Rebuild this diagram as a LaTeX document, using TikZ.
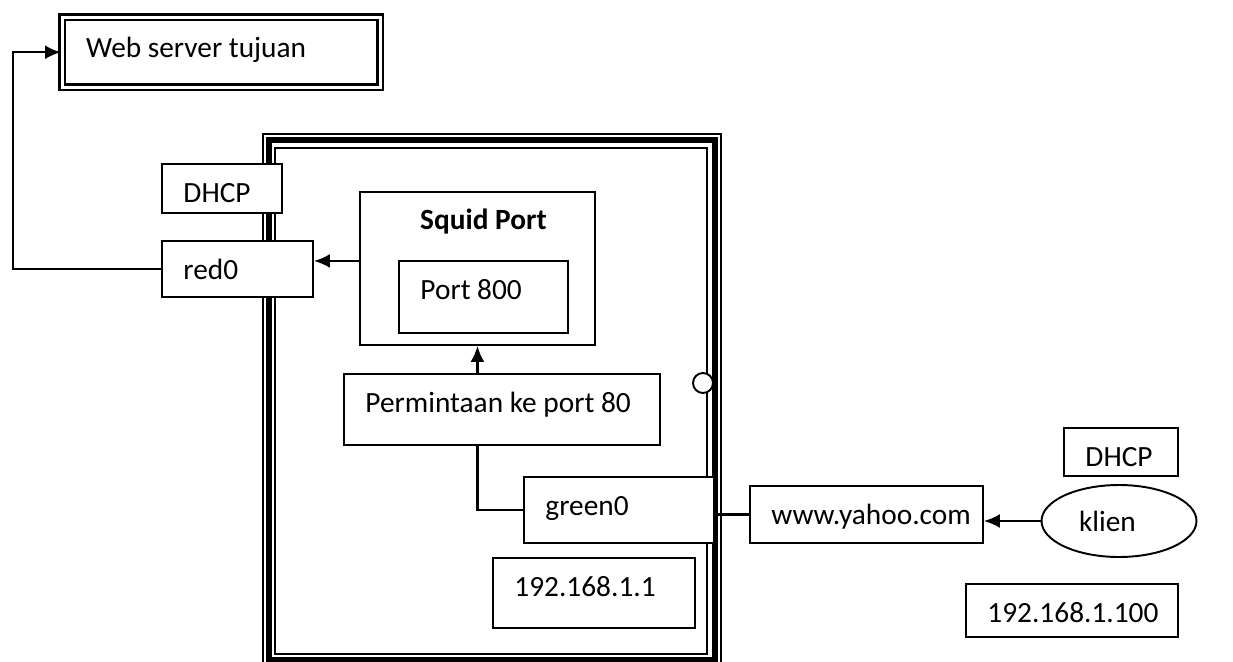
\documentclass[tikz,border=0pt]{standalone}
\usepackage{fontspec}
\setmainfont{Carlito}
\usetikzlibrary{shapes,arrows.meta,positioning,calc}

\begin{document}
\begin{tikzpicture}[x=0.02cm, y=-0.02cm, >={Latex[length=0.32cm,width=0.28cm]},
    font=\fontsize{16.7}{19}\selectfont,
    kotak/.style={draw, rectangle, fill=white, line width=1.1pt, anchor=north west, align=flush left, inner xsep=0.43cm, inner ysep=0pt, text height=0.78cm},
    garis/.style={line width=1.4pt}]
    \useasboundingbox (0,0) rectangle (1233,662);

    % bingkai server
    \draw [line width=0.85pt] (263,134) rectangle (721,666);
    \draw [line width=0.12cm] (269,140.5) rectangle (715,660);
    \draw [line width=1.1pt] (275,148) rectangle (707,654);

    \node [kotak, double, double distance=1.7pt, line width=1.4pt, inner xsep=0.48cm, text width=5.4cm, text height=0.8cm, text depth=0.6cm] (web) at (61,16) {Web server tujuan};

    \node [kotak, text width=1.54cm, text depth=0.2cm] (dhcpkiri) at (161,163) {DHCP};
    \node [kotak, text width=2.16cm, text depth=0.34cm] (red0) at (161,240) {red0};

    \node [kotak, minimum width=4.7cm, minimum height=3.06cm, label={[anchor=base, xshift=0.12cm, yshift=-0.78cm]north:\textbf{Squid Port}}] (squid) at (359,191) {};
    \node [kotak, text width=2.52cm, text depth=0.66cm] (port800) at (398,260) {Port 800};
    \node [kotak, text width=5.46cm, text depth=0.64cm] (permintaan) at (343,373) {Permintaan ke port 80};
    \node [kotak, text width=2.94cm, text depth=0.54cm] (green0) at (523,476) {green0};
    \node [kotak, text width=3.18cm, text depth=0.62cm] (ip1) at (492,557) {192.168.1.1};
    \node [circle, draw, fill=white, line width=1.1pt, minimum size=0.4cm, inner sep=0pt] (titik) at (703,383) {};

    \node [kotak, text width=3.8cm, text depth=0.36cm] (yahoo) at (749,485) {www.yahoo.com};
    \node [kotak, text width=1.42cm, text depth=0.18cm] (dhcpkanan) at (1063,427) {DHCP};
    \node [draw, ellipse, line width=1.1pt, minimum width=3.1cm, minimum height=1.44cm, inner sep=0pt, text width=1.6cm, align=flush left] (klien) at (1119,521) {klien};
    \node [kotak, text width=3.38cm, text depth=0.28cm] (ip100) at (965,583) {192.168.1.100};

    \draw [->, garis] (red0.west) -- ++(-148,0) |- (web.west);
    \draw [->, garis] ([yshift=0.15cm]squid.west) -- ([yshift=0.15cm]squid.west -| red0.east);
    \draw [->, garis] (permintaan.north -| squid.south) -- (squid.south);
    \draw [garis] (permintaan.south -| squid.south) |- (green0.west);
    \draw [garis] (yahoo.west -| green0.east) -- (yahoo.west);
    \draw [->, garis] (klien.west) -- (klien.west -| yahoo.east);
\end{tikzpicture}
\end{document}
